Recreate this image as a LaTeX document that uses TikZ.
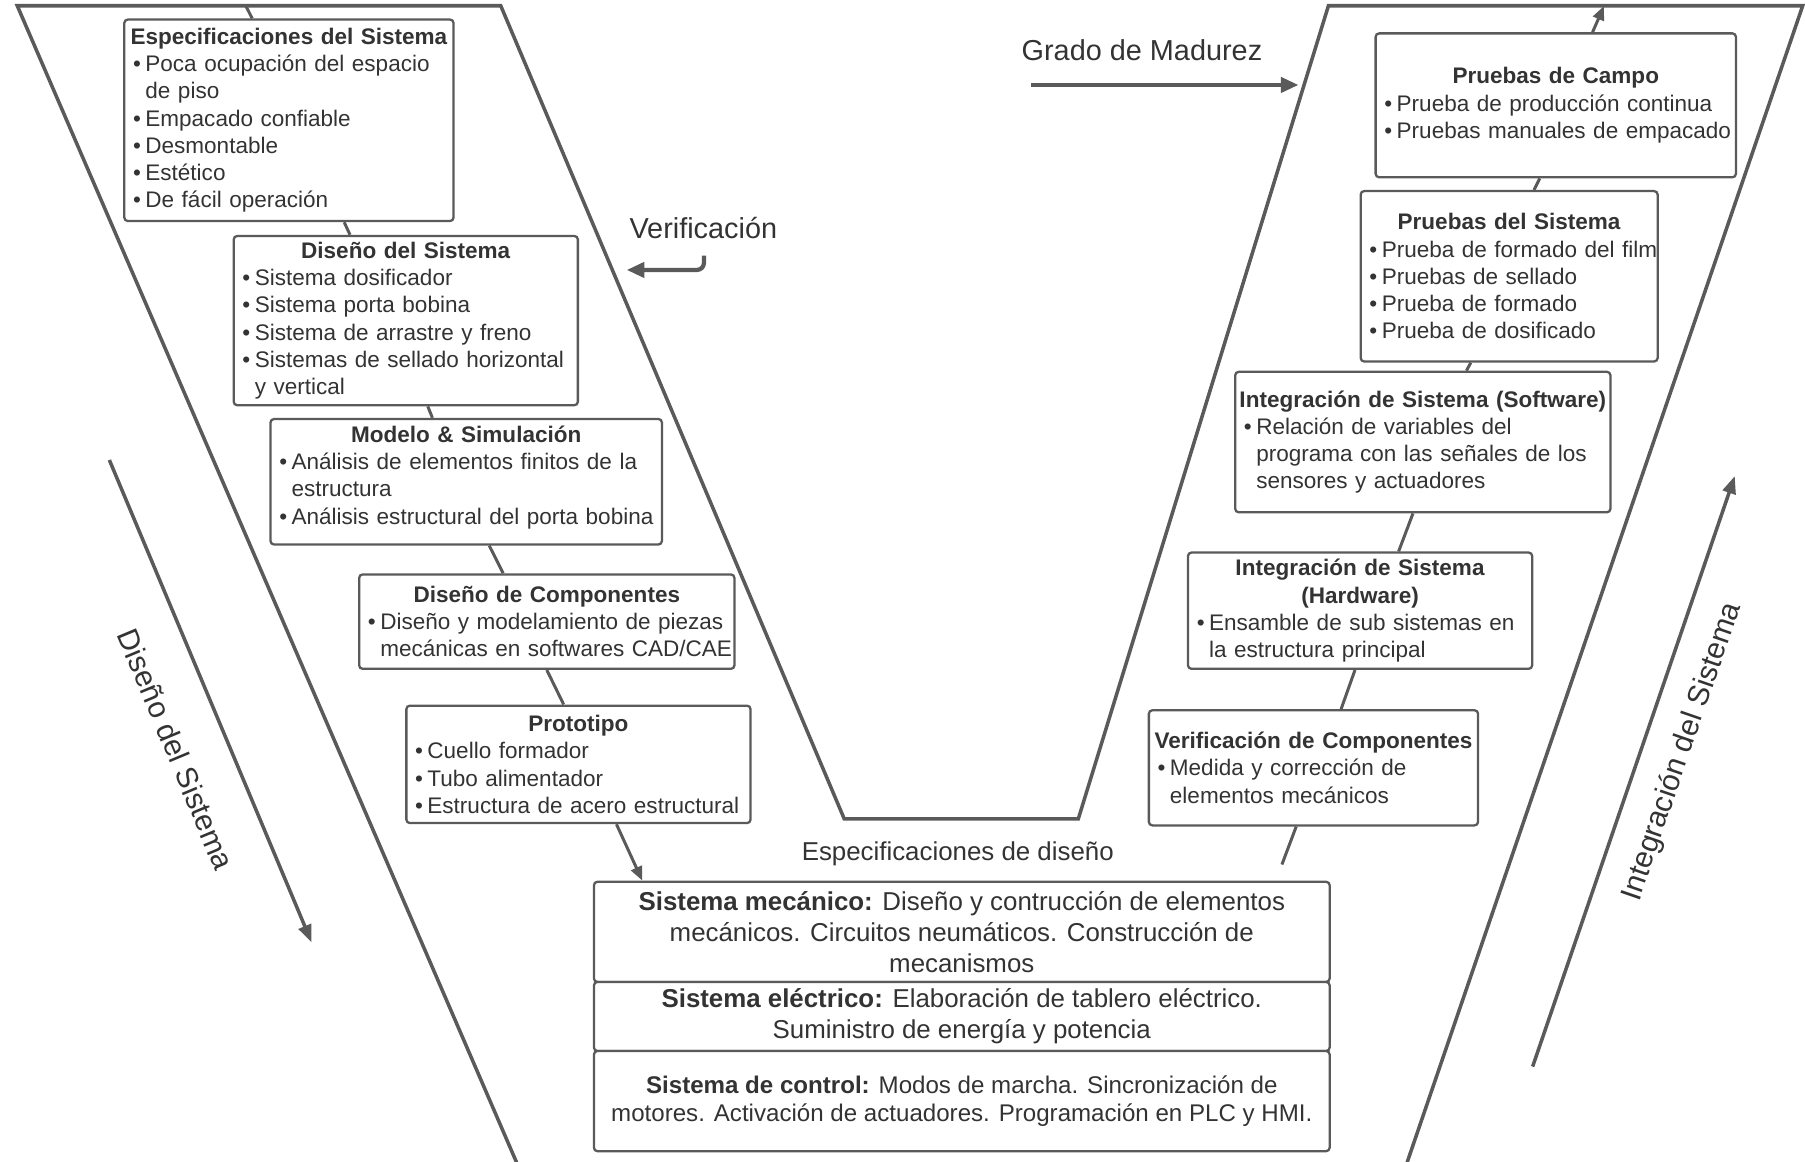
\documentclass[tikz,border=0pt]{standalone}
\usepackage{fontspec}
\setmainfont{Liberation Sans}
\usetikzlibrary{arrows.meta}
\definecolor{vgris}{HTML}{5A5A5A}
\definecolor{tgris}{HTML}{333333}
\newcommand{\ttl}[1]{\noindent\makebox[\hsize][c]{\textbf{#1}}\par}
\newcommand{\itm}[1]{\par\noindent\hangindent=7pt\hangafter=1\makebox[7pt][l]{\textbullet}\mbox{#1}}
\newcommand{\nxt}[1]{\newline\mbox{#1}}

\begin{document}
\begin{tikzpicture}[x=0.023cm,y=-0.023cm,
    caja/.style={draw=vgris,line width=1.3pt,rounded corners=2pt,fill=white,text=tgris,
      inner xsep=5pt,inner ysep=2pt,align=left,font=\fontsize{12.8}{15.45}\selectfont},
    base/.style={draw=vgris,line width=1.3pt,rounded corners=2pt,fill=white,text=tgris,
      inner ysep=1pt,align=center,minimum width=14.697cm,font=\fontsize{14.7}{17.6}\selectfont},
    lineav/.style={draw=vgris,line width=2pt},
    conex/.style={draw=vgris,line width=1.7pt},
    punta/.style={-{Triangle[length=8pt,width=6.5pt]}},
    gruesa/.style={draw=vgris,line width=2.4pt,-{Triangle[length=10pt,width=8.5pt]}},
    eje/.style={draw=vgris,line width=2pt,-{Triangle[length=10pt,width=7.5pt]}},
    rotulo/.style={text=tgris,font=\fontsize{16.4}{19}\selectfont}]
  \useasboundingbox (0,0) rectangle (1568,1009);

  \draw[lineav] (449.7,1012) -- (15,5) -- (435,5) -- (733.4,711.4) -- (936.7,711.4)
    -- (1154,5) -- (1566,5) -- (1221.6,1012);

  \coordinate (ltop) at (213.5,5);
  \coordinate (rtop) at (1393.4,5.2);
  \coordinate (rbot) at (1113.6,751);

  \node[caja,text width=6.225cm,minimum height=4.025cm] (espec) at (251,104.5)
    {\ttl{Especificaciones del Sistema}\itm{Poca ocupación del espacio}\nxt{de piso}%
     \itm{Empacado confiable}\itm{Desmontable}\itm{Estético}\itm{De fácil operación}\par};
  \node[caja,text width=6.524cm,minimum height=3.381cm] (disenosis) at (352.5,278.5)
    {\ttl{Diseño del Sistema}\itm{Sistema dosificador}\itm{Sistema porta bobina}%
     \itm{Sistema de arrastre y freno}\itm{Sistemas de sellado horizontal}\nxt{y vertical}\par};
  \node[caja,text width=7.467cm,minimum height=2.507cm] (modelo) at (405,418.5)
    {\ttl{Modelo \& Simulación}\itm{Análisis de elementos finitos de la}\nxt{estructura}%
     \itm{Análisis estructural del porta bobina}\par\vspace{5pt}};
  \node[caja,text width=7.145cm,minimum height=1.886cm] (compon) at (475,540)
    {\ttl{Diseño de Componentes}\itm{Diseño y modelamiento de piezas}\nxt{mecánicas en softwares CAD/CAE}\par};
  \node[caja,text width=6.524cm,minimum height=2.346cm] (proto) at (502.5,664)
    {\ttl{Prototipo}\itm{Cuello formador}\itm{Tubo alimentador}\itm{Estructura de acero estructural}\par};

  \node[caja,text width=6.846cm,minimum height=2.875cm] (campo) at (1351.5,91.5)
    {\ttl{Pruebas de Campo}\itm{Prueba de producción continua}\itm{Pruebas manuales de empacado}\par};
  \node[caja,text width=5.581cm,minimum height=3.404cm] (pruebsis) at (1311,240)
    {\ttl{Pruebas del Sistema}\itm{Prueba de formado del film}\itm{Pruebas de sellado}%
     \itm{Prueba de formado}\itm{Prueba de dosificado}\par};
  \node[caja,text width=7.145cm,minimum height=2.806cm] (software) at (1236,384)
    {\ttl{Integración de Sistema (Software)}\itm{Relación de variables del}%
     \nxt{programa con las señales de los}\nxt{sensores y actuadores}\par};
  \node[caja,text width=6.524cm,minimum height=2.323cm] (hardware) at (1181.5,530.5)
    {\ttl{Integración de Sistema}\ttl{(Hardware)}\itm{Ensamble de sub sistemas en}%
     \nxt{la estructura principal}\par};
  \node[caja,text width=6.225cm,minimum height=2.3cm] (vercomp) at (1141,667)
    {\ttl{Verificación de Componentes}\itm{Medida y corrección de}\nxt{elementos mecánicos}\par};

  \node[base,minimum height=2.001cm] (mec) at (835.5,809.5)
    {\textbf{Sistema mecánico:} Diseño y contrucción de elementos\\
     mecánicos. Circuitos neumáticos. Construcción de\\mecanismos};
  \node[base,minimum height=1.38cm] (ele) at (835.5,883)
    {\textbf{Sistema eléctrico:} Elaboración de tablero eléctrico.\\
     Suministro de energía y potencia};
  \node[base,minimum height=2.001cm,font=\fontsize{13.7}{16.4}\selectfont] (ctrl) at (835.5,956.5)
    {\textbf{Sistema de control:} Modos de marcha. Sincronización de\\
     motores. Activación de actuadores. Programación en PLC y HMI.};

  \node[text=tgris,font=\fontsize{14.7}{17.6}\selectfont] (espdis) at (832,742) {Especificaciones de diseño};
  \node[rotulo] (verif) at (611,198) {Verificación};
  \node[rotulo] (grado) at (992,44) {Grado de Madurez};
  \node[rotulo,font=\fontsize{17}{20}\selectfont,rotate=-67.3] (disl) at (153,651) {Diseño del Sistema};
  \node[rotulo,font=\fontsize{17}{20}\selectfont,rotate=71] (intl) at (1461.5,653) {Integración del Sistema};

  \coordinate (verifa) at (611.5,222);
  \coordinate (verifb) at (544.4,234.5);
  \coordinate (gradoa) at (896,73.8);
  \coordinate (gradob) at (1128,73.8);
  \coordinate (disa) at (95,399.6);
  \coordinate (disb) at (270.7,818.7);
  \coordinate (inta) at (1331.4,926.5);
  \coordinate (intb) at (1507,413.5);

  \draw[conex] (ltop) -- ([xshift=-20.9pt]espec.north);
  \draw[conex] ([xshift=31.4pt]espec.south) -- ([xshift=-31.7pt]disenosis.north);
  \draw[conex] ([xshift=12.5pt]disenosis.south) -- ([xshift=-19.2pt]modelo.north);
  \draw[conex] ([xshift=13.1pt]modelo.south) -- ([xshift=-24.8pt]compon.north);
  \draw[conex] (compon.south) -- ([xshift=-8.4pt]proto.north);
  \draw[conex,punta] ([xshift=21.6pt]proto.south) -- ([xshift=-181.6pt]mec.north);

  \draw[conex] (rbot) -- ([xshift=-9.8pt]vercomp.south);
  \draw[conex] ([xshift=15.7pt]vercomp.north) -- ([xshift=-2.9pt]hardware.south);
  \draw[conex] ([xshift=21.9pt]hardware.north) -- ([xshift=-5.6pt]software.south);
  \draw[conex] ([xshift=24.8pt]software.north) -- ([xshift=-21.8pt]pruebsis.south);
  \draw[conex] ([xshift=14.1pt]pruebsis.north) -- ([xshift=-9.1pt]campo.south);
  \draw[conex,punta] ([xshift=20.9pt]campo.north) -- (rtop);

  \draw[gruesa,rounded corners=4pt] (verifa) |- (verifb);
  \draw[gruesa] (gradoa) -- (gradob);
  \draw[eje] (disa) -- (disb);
  \draw[eje] (inta) -- (intb);
\end{tikzpicture}
\end{document}
